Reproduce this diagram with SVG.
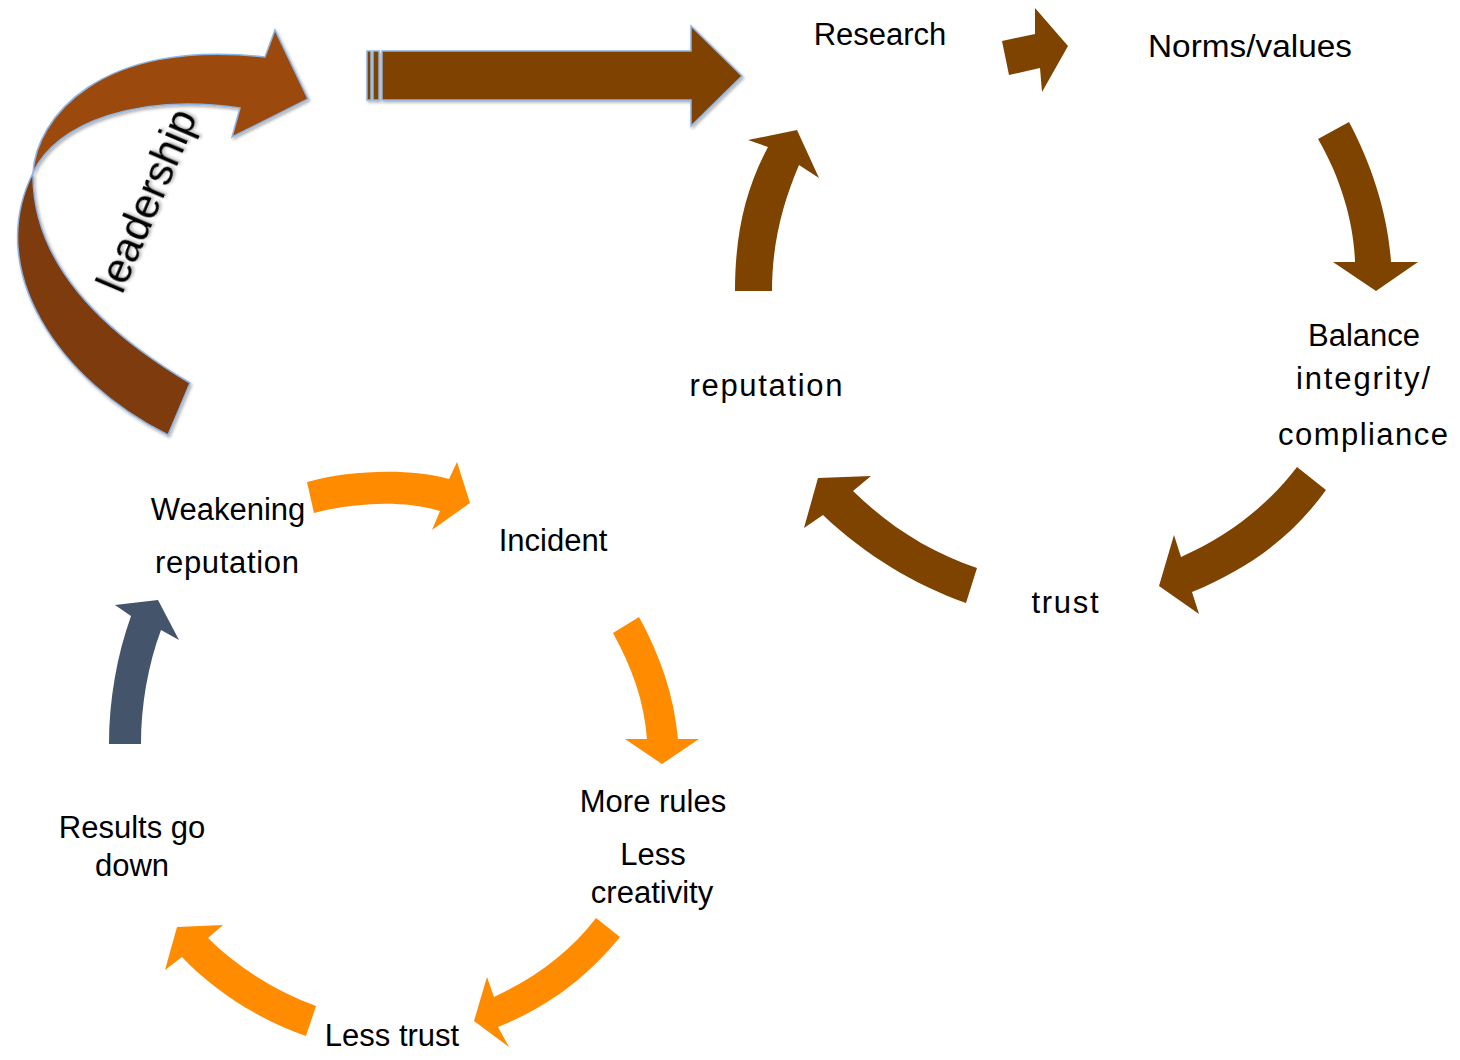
<svg xmlns="http://www.w3.org/2000/svg" width="1460" height="1060" viewBox="0 0 1460 1060">
<style>
  .lbl { font-family: "Liberation Sans", Arial, sans-serif; font-size: 31px; fill: #000; text-anchor: middle; }
  .brown { fill: #7F4300; }
  .orange { fill: #FF8B00; }
  .slate { fill: #44546A; }
  .outl { stroke: #8EB4E3; stroke-width: 1.5; stroke-linejoin: miter; }
</style>
<defs>
  <filter id="shadow" x="-20%" y="-20%" width="140%" height="140%">
    <feDropShadow dx="1.5" dy="2" stdDeviation="1.5" flood-color="#000" flood-opacity="0.3"/>
  </filter>
</defs>
<rect x="0" y="0" width="1460" height="1060" fill="#fff"/>

<g id="connectors">
  <!-- leadership curved arrow -->
  <g id="leadership-arrow" filter="url(#shadow)">
    <path class="outl" fill="#7E3B0B" d="M168,435 L190,383 C100,330 32,262 33,173 C-16,270 58,380 168,435 Z"/>
    <path class="outl" fill="#9C4A0C" d="M33,173 C36,118 100,38 265,57 L275,30 L308,99 L232,137 L240,108 C140,93 56,122 33,173 Z"/>
  </g>
  <!-- striped big arrow -->
  <g id="striped-arrow" filter="url(#shadow)">
    <rect class="brown outl" x="367" y="51" width="4" height="49"/>
    <rect class="brown outl" x="373" y="51" width="6" height="49"/>
    <path class="brown outl" d="M382,51 L691,51 L691,26 L742,76 L691,126 L691,100 L382,100 Z"/>
  </g>
  <!-- Research -> Norms/values -->
  <path class="brown" d="M1002,41 L1035,34 L1035,8 L1068,46 L1042,92 L1040,68 L1009,75 Z"/>
  <!-- Norms/values -> Balance -->
  <path class="brown" d="M1318,139 L1349,122 C1372,165 1388,215 1391,262 L1418,262 L1376,291 L1333,262 L1355,262 C1354,225 1342,180 1318,139 Z"/>
  <!-- Balance -> trust -->
  <path class="brown" d="M1297,467 L1326,490 C1290,540 1245,570 1192,592 L1199,614 L1159,586 L1174,535 L1181,557 C1230,535 1268,505 1297,467 Z"/>
  <!-- trust -> reputation -->
  <path class="brown" d="M977,568 L966,603 C915,585 865,555 823,515 L804,528 L818,478 L871,476 L853,491 C890,527 930,552 977,568 Z"/>
  <!-- reputation -> Research -->
  <path class="brown" d="M735,291 C735,235 745,190 768,147 L748,140 L797,130 L819,178 L799,165 C782,205 772,245 772,291 Z"/>
  <!-- Weakening -> Incident -->
  <path class="orange" d="M307,482 C350,470 410,468 449,479 L457,462 L470,503 L432,530 L440,511 C405,500 355,502 314,513 Z"/>
  <!-- Incident -> More rules -->
  <path class="orange" d="M613,633 L639,617 C660,655 674,695 678,739 L699,739 L662,764 L625,739 L647,739 C644,700 632,668 613,633 Z"/>
  <!-- Less creativity -> Less trust -->
  <path class="orange" d="M596,918 L620,937 C585,980 545,1008 498,1027 L509,1047 L474,1021 L487,977 L494,997 C535,978 570,952 596,918 Z"/>
  <!-- Less trust -> Results go down -->
  <path class="orange" d="M316,1006 C280,993 240,970 208,938 L223,925 L177,927 L165,970 L182,957 C215,992 260,1020 306,1036 Z"/>
  <!-- Results go down -> Weakening reputation -->
  <path class="slate" d="M109,744 C109,700 117,655 131,616 L115,605 L158,600 L179,640 L161,630 C148,665 141,705 141,744 Z"/>
</g>

<g id="node-leadership">
  <text class="lbl" style="font-size:42px" filter="url(#shadow)" x="160" y="206" transform="rotate(-67 160 206)">leadership</text>
</g>
<g id="node-research"><text class="lbl" x="880" y="45">Research</text></g>
<g id="node-norms"><text class="lbl" x="1250" y="57" textLength="204" lengthAdjust="spacingAndGlyphs">Norms/values</text></g>
<g id="node-balance">
  <text class="lbl" x="1364" y="346">Balance</text>
  <text class="lbl" x="1363" y="389" textLength="134">integrity/</text>
  <text class="lbl" x="1363" y="445" textLength="170">compliance</text>
</g>
<g id="node-reputation"><text class="lbl" x="766" y="396" textLength="153">reputation</text></g>
<g id="node-trust"><text class="lbl" x="1065" y="613" textLength="67">trust</text></g>
<g id="node-weakening">
  <text class="lbl" x="228" y="520">Weakening</text>
  <text class="lbl" x="227" y="573" textLength="144">reputation</text>
</g>
<g id="node-incident"><text class="lbl" x="553" y="551">Incident</text></g>
<g id="node-more-rules">
  <text class="lbl" x="653" y="812">More rules</text>
  <text class="lbl" x="653" y="865">Less</text>
  <text class="lbl" x="652" y="903">creativity</text>
</g>
<g id="node-results">
  <text class="lbl" x="132" y="838">Results go</text>
  <text class="lbl" x="132" y="876">down</text>
</g>
<g id="node-less-trust"><text class="lbl" x="392" y="1046">Less trust</text></g>
</svg>
